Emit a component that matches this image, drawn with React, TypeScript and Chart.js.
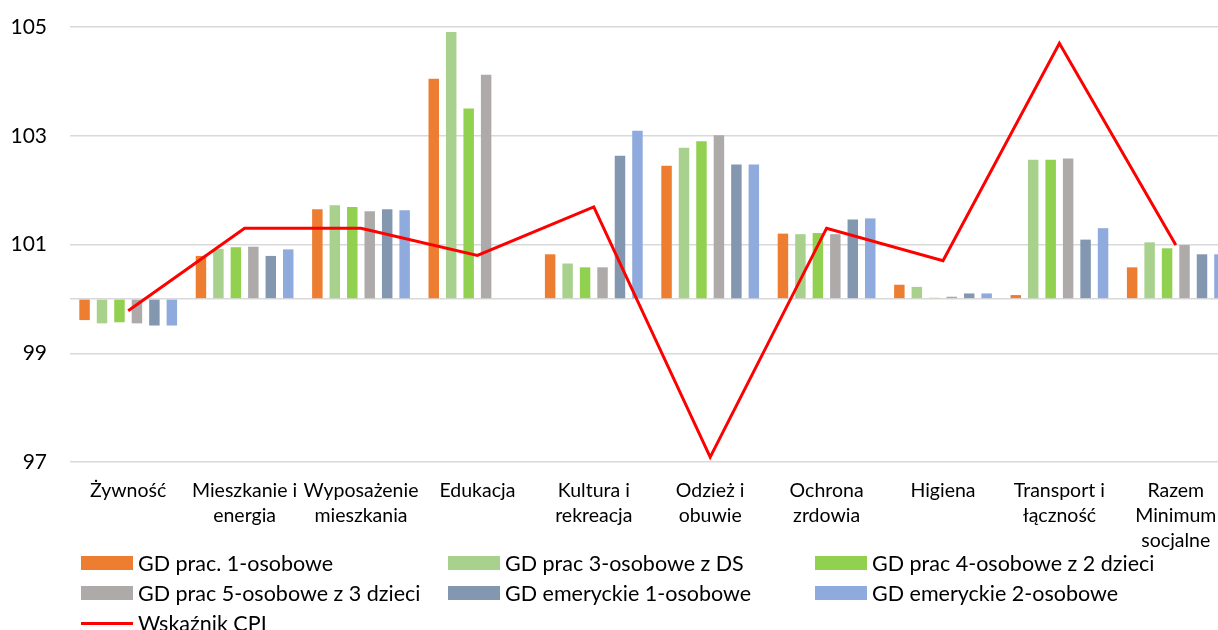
import React, { useEffect, useRef } from "react";
import { Chart, registerables } from "chart.js";

Chart.register(...registerables);

const categories: (string | string[])[] = [
  "Żywność",
  ["Mieszkanie i", "energia"],
  ["Wyposażenie", "mieszkania"],
  "Edukacja",
  ["Kultura i", "rekreacja"],
  ["Odzież i", "obuwie"],
  ["Ochrona", "zrdowia"],
  "Higiena",
  ["Transport i", "łączność"],
  ["Razem", "Minimum", "socjalne"],
];

const seriesNames = [
  "GD prac. 1-osobowe",
  "GD prac 3-osobowe z DS",
  "GD prac 4-osobowe z 2 dzieci",
  "GD prac 5-osobowe z 3 dzieci",
  "GD emeryckie 1-osobowe",
  "GD emeryckie 2-osobowe",
];
const lineName = "Wskaźnik CPI";

const gdPrac1: (number | null)[] = [99.61, 100.79, 101.65, 104.05, 100.82, 102.45, 101.2, 100.26, 100.07, 100.58];
const gdPrac3: (number | null)[] = [99.55, 100.92, 101.72, 104.91, 100.65, 102.78, 101.19, 100.22, 102.56, 101.04];
const gdPrac4: (number | null)[] = [99.57, 100.95, 101.69, 103.5, 100.58, 102.9, 101.21, 100.02, 102.56, 100.93];
const gdPrac5: (number | null)[] = [99.55, 100.96, 101.61, 104.12, 100.58, 103.01, 101.19, 100.04, 102.58, 100.99];
const gdEmer1: (number | null)[] = [99.51, 100.79, 101.65, null, 102.63, 102.47, 101.46, 100.1, 101.09, 100.82];
const gdEmer2: (number | null)[] = [99.51, 100.91, 101.63, null, 103.09, 102.47, 101.48, 100.1, 101.3, 100.82];
const cpi: number[] = [99.78, 101.3, 101.3, 100.8, 101.69, 97.09, 101.3, 100.7, 104.7, 100.99];

const yTicks = [97, 99, 101, 103, 105];
const baseValue = 100;

const barColors = ["#ED7D31", "#A9D18E", "#92D050", "#AEAAAA", "#8497B0", "#8FAADC"];
const lineColor = "#FF0000";

const FONT = "Lato, 'Open Sans', sans-serif";

export default function App() {
  const canvasRef = useRef<HTMLCanvasElement | null>(null);

  useEffect(() => {
    const canvas = canvasRef.current;
    if (!canvas) return;
    const seriesData = [gdPrac1, gdPrac3, gdPrac4, gdPrac5, gdEmer1, gdEmer2];
    const chart = new Chart(canvas, {
      type: "bar",
      data: {
        labels: categories,
        datasets: [
          ...seriesData.map((d, i) => ({
            type: "bar" as const,
            label: seriesNames[i],
            data: d,
            backgroundColor: barColors[i],
            base: baseValue,
            categoryPercentage: 0.9,
            barPercentage: 0.6,
            order: 1,
          })),
          {
            type: "line" as const,
            label: lineName,
            data: cpi,
            borderColor: lineColor,
            backgroundColor: lineColor,
            borderWidth: 3,
            pointRadius: 0,
            tension: 0,
            fill: false,
            order: 0,
          },
        ],
      },
      options: {
        responsive: false,
        animation: false,
        layout: { padding: { top: 27, left: 0, right: 16, bottom: 0 } },
        plugins: {
          legend: { display: false },
          tooltip: { enabled: false },
        },
        scales: {
          x: {
            grid: { display: false },
            border: { display: false },
            ticks: {
              color: "#000",
              font: { family: FONT, size: 19.5, lineHeight: "25px" },
              padding: 8,
              maxRotation: 0,
              autoSkip: false,
            },
            afterFit: (scale: any) => {
              scale.height = 168;
            },
          },
          y: {
            min: 97,
            max: 105,
            border: { display: false },
            grid: { color: "#d9d9d9", lineWidth: 1.5, drawTicks: false },
            ticks: {
              stepSize: 2,
              padding: 23,
              color: "#000",
              font: { family: FONT, size: 21 },
              callback: (v: any) => (yTicks.includes(Number(v)) ? String(v) : ""),
            },
            afterBuildTicks: (scale: any) => {
              const t = yTicks.map((v) => ({ value: v }));
              t.push({ value: baseValue });
              t.sort((a, b) => a.value - b.value);
              scale.ticks = t;
            },
            afterFit: (scale: any) => {
              scale.width = 70;
              scale.paddingTop = 0;
              scale.paddingBottom = 0;
            },
          },
        },
      },
    });
    return () => chart.destroy();
  }, []);

  const legendItems = [
    { name: seriesNames[0], color: barColors[0], line: false },
    { name: seriesNames[1], color: barColors[1], line: false },
    { name: seriesNames[2], color: barColors[2], line: false },
    { name: seriesNames[3], color: barColors[3], line: false },
    { name: seriesNames[4], color: barColors[4], line: false },
    { name: seriesNames[5], color: barColors[5], line: false },
    { name: lineName, color: lineColor, line: true },
  ];
  const colX = [81, 448, 815];
  const rowY = [563, 593, 623];

  return (
    <div
      style={{
        position: "absolute",
        left: 0,
        top: 0,
        width: 1218,
        height: 630,
        overflow: "hidden",
        background: "#fff",
      }}
    >
      <canvas ref={canvasRef} width={1250} height={630} style={{ display: "block" }} />
      {legendItems.map((it, i) => {
        const col = i % 3;
        const row = Math.floor(i / 3);
        return (
          <div
            key={it.name}
            style={{
              position: "absolute",
              left: colX[col],
              top: rowY[row] - 15,
              height: 30,
              display: "flex",
              alignItems: "center",
              fontFamily: FONT,
              fontSize: 21.5,
              color: "#000",
              whiteSpace: "nowrap",
            }}
          >
            <span
              style={{
                display: "inline-block",
                width: 52,
                height: it.line ? 3 : 14,
                background: it.color,
                marginRight: 5,
              }}
            />
            <span>{it.name}</span>
          </div>
        );
      })}
    </div>
  );
}
